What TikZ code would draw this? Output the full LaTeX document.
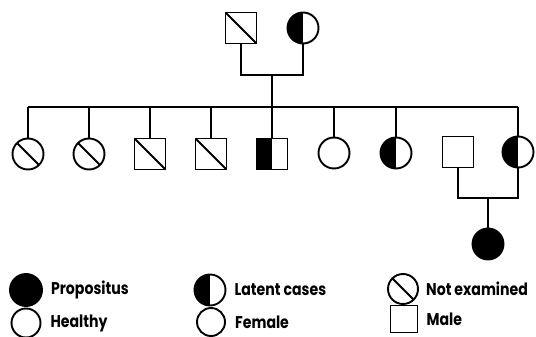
\documentclass[tikz,border=0pt]{standalone}
\usepackage{fontspec}
\setmainfont{Poppins}[FakeStretch=0.83]
\usetikzlibrary{positioning,calc}
\tikzset{
	pers/.style={draw=black,line width=1.9pt,inner sep=0pt,minimum size=31pt},
	m/.style={pers,rectangle},
	f/.style={pers,circle},
	noex/.style={path picture={\draw[line width=1.9pt] (path picture bounding box.north west)--(path picture bounding box.south east);}},
	lat/.style={path picture={\fill[black] (path picture bounding box.south west) rectangle (path picture bounding box.north);}},
	prop/.style={fill=black},
	line/.style={draw=black,line width=1.9pt},
	key/.style={inner sep=0pt,font=\fontsize{17}{17}\selectfont\bfseries},
}
\begin{document}
\begin{tikzpicture}[x=1pt,y=-1pt]
	\useasboundingbox (0,0) rectangle (536,337);
	% parents
	\node[m,noex] (fa) at (241,28) {};
	\node[f,lat] (mo) at (303,28) {};
	\coordinate (mar) at (272,75);
	\draw[line] (fa.south) |- (mar) -| (mo.south);
	% sibship line
	\coordinate (sl) at (28,107);
	\coordinate (sr) at (518,107);
	\draw[line] (sl) -- (sr);
	\draw[line] (mar) -- (mar |- sl);
	% children
	\node[f,noex] (c1) at (28,154) {};
	\node[f,noex] (c2) at (89,154) {};
	\node[m,noex] (c3) at (150,154) {};
	\node[m,noex] (c4) at (211,154) {};
	\node[m,lat] (c5) at (272,154) {};
	\node[f] (c6) at (334,153) {};
	\node[f,lat] (c7) at (396,153) {};
	\node[m] (sp) at (458,152) {};
	\node[f,lat] (c9) at (518,152) {};
	\foreach \c in {c1,c2,c3,c4,c5,c6,c7,c9}
	\draw[line] (\c.north) -- (\c.north |- sl);
	% propositus
	\coordinate (mar2) at (488,198);
	\draw[line] (sp.south) |- (mar2) -| (c9.south);
	\node[f,prop] (pr) at (488,244) {};
	\draw[line] (mar2) -- (pr.north);
	% key
	\node[f,prop,minimum size=32pt] (kprop) at (26,290) {};
	\node[key,right=8pt of kprop] (tprop) {Propositus};
	\node[f,minimum size=29pt] (kheal) at (26,323) {};
	\node[key,right=9pt of kheal] (theal) {Healthy};
	\node[f,lat] (klat) at (210,290) {};
	\node[key,right=8pt of klat] (tlat) {Latent cases};
	\node[f,minimum size=28pt] (kfem) at (211,322) {};
	\node[key,right=9pt of kfem] (tfem) {Female};
	\node[f,noex,minimum size=30pt] (knx) at (403,289) {};
	\node[key,right=7pt of knx] (tnx) {Not examined};
	\node[m,minimum size=27pt] (kmale) at (404,319) {};
	\node[key,right=8pt of kmale] (tmale) {Male};
\end{tikzpicture}
\end{document}
